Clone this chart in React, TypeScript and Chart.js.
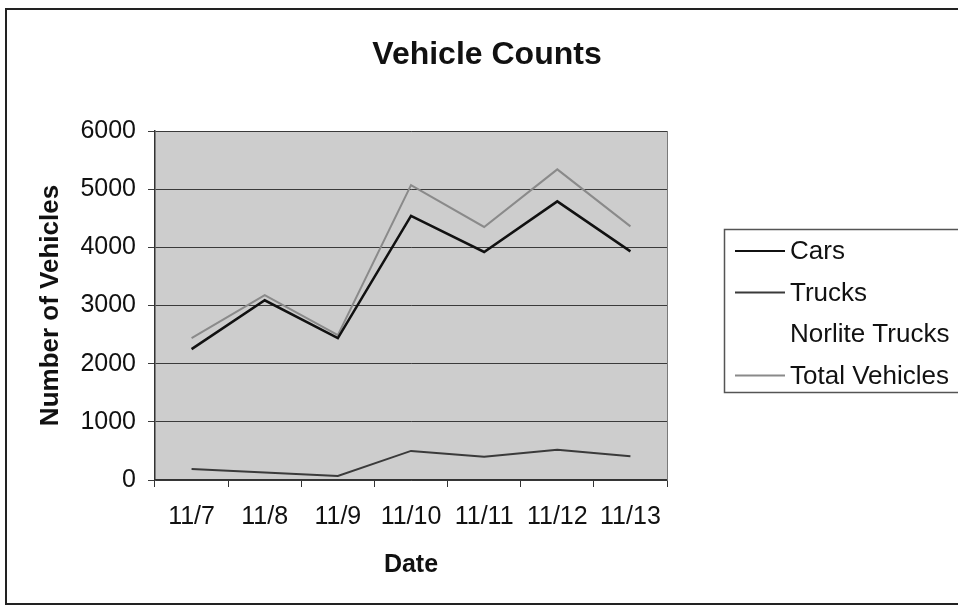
import React, { useEffect, useRef } from "react";
import { Chart, registerables } from "chart.js";

Chart.register(...registerables);

const categories = ["11/7", "11/8", "11/9", "11/10", "11/11", "11/12", "11/13"];
const cars = [2250, 3090, 2440, 4540, 3920, 4790, 3930];
const trucks = [190, 130, 70, 500, 400, 520, 410];
const norliteTrucks = [0, 0, 0, 30, 30, 30, 20];
const totalVehicles = [2440, 3180, 2490, 5070, 4350, 5340, 4360];
const seriesNames = ["Cars", "Trucks", "Norlite Trucks", "Total Vehicles"];
const seriesColors = ["#111111", "#3a3a3a", "rgba(255,255,255,0)", "#8a8a8a"];
const seriesWidths = [2.5, 2, 1, 2];
const yMin = 0;
const yMax = 6000;
const yStep = 1000;

const chartTitle = "Vehicle Counts";
const xTitle = "Date";
const yTitle = "Number of Vehicles";

const FONT = "'Liberation Sans', Arial, Helvetica, sans-serif";

const decor = {
  id: "decor",
  beforeDraw(chart: any) {
    const { ctx, chartArea: a } = chart;
    ctx.save();
    ctx.fillStyle = "#ffffff";
    ctx.fillRect(0, 0, chart.width, chart.height);
    ctx.fillStyle = "#cdcdcd";
    ctx.fillRect(a.left, a.top, a.right - a.left, a.bottom - a.top);
    ctx.restore();
  },
  afterDraw(chart: any) {
    const { ctx, chartArea: a } = chart;
    ctx.save();
    // plot right border
    ctx.strokeStyle = "#7a7a7a";
    ctx.lineWidth = 1;
    ctx.beginPath();
    ctx.moveTo(Math.round(a.right) + 0.5, a.top);
    ctx.lineTo(Math.round(a.right) + 0.5, a.bottom);
    ctx.stroke();

    // outer frame
    ctx.strokeStyle = "#222222";
    ctx.lineWidth = 2;
    ctx.strokeRect(6, 9, 1000, 595);

    // title
    ctx.fillStyle = "#111111";
    ctx.font = `bold 32px ${FONT}`;
    ctx.textAlign = "center";
    ctx.textBaseline = "middle";
    ctx.fillText(chartTitle, 487, 55);

    // legend box
    ctx.strokeStyle = "#555555";
    ctx.lineWidth = 1.5;
    ctx.strokeRect(724.5, 229.5, 300, 163);
    ctx.font = `26px ${FONT}`;
    ctx.textAlign = "left";
    const ds = chart.data.datasets;
    for (let i = 0; i < ds.length; i++) {
      const y = 251 + i * 41.5;
      ctx.strokeStyle = ds[i].borderColor;
      ctx.lineWidth = Math.min(ds[i].borderWidth, 2);
      ctx.beginPath();
      ctx.moveTo(735, y);
      ctx.lineTo(785, y);
      ctx.stroke();
      ctx.fillStyle = "#111111";
      ctx.fillText(ds[i].label, 790, y + 1);
    }
    ctx.restore();
  },
};

export default function App() {
  const ref = useRef<HTMLCanvasElement | null>(null);

  useEffect(() => {
    if (!ref.current) return;
    const seriesData = [cars, trucks, norliteTrucks, totalVehicles];
    const chart = new Chart(ref.current, {
      type: "line",
      data: {
        labels: categories,
        datasets: seriesNames.map((name, i) => ({
          label: name,
          data: seriesData[i],
          borderColor: seriesColors[i],
          backgroundColor: seriesColors[i],
          borderWidth: seriesWidths[i],
          pointRadius: 0,
          tension: 0,
          fill: false,
        })),
      },
      options: {
        animation: false,
        responsive: false,
        devicePixelRatio: 1,
        layout: { padding: { left: 0, top: 131, right: 291, bottom: 0 } },
        plugins: {
          legend: { display: false },
          title: { display: false },
          tooltip: { enabled: false },
        },
        scales: {
          x: {
            type: "category",
            offset: true,
            afterFit: (s: any) => {
              s.height = 133;
            },
            grid: {
              offset: true,
              drawOnChartArea: false,
              drawTicks: true,
              tickLength: 7,
              color: "#333333",
            },
            border: { display: true, color: "#333333", width: 1.5 },
            ticks: {
              color: "#111111",
              font: { family: FONT, size: 25 },
              padding: 15,
              maxRotation: 0,
              autoSkip: false,
            },
            title: {
              display: true,
              text: xTitle,
              color: "#111111",
              font: { family: FONT, size: 25, weight: "bold" },
              padding: { top: 0, bottom: 33 },
            },
          },
          y: {
            min: yMin,
            max: yMax,
            afterFit: (s: any) => {
              s.width = 155;
            },
            grid: {
              drawOnChartArea: true,
              drawTicks: true,
              tickLength: 7,
              color: "#3a3a3a",
              lineWidth: 1,
            },
            border: { display: true, color: "#333333", width: 1.5 },
            ticks: {
              stepSize: yStep,
              color: "#111111",
              font: { family: FONT, size: 25 },
              padding: 12,
              callback: (v: any) => String(v),
            },
            title: {
              display: true,
              text: yTitle,
              color: "#111111",
              font: { family: FONT, size: 26, weight: "bold" },
              padding: { top: 35, bottom: 0 },
            },
          },
        },
      },
      plugins: [decor],
    });
    return () => chart.destroy();
  }, []);

  return (
    <div style={{ position: "fixed", left: 0, top: 0, width: 958, height: 613, background: "#fff" }}>
      <canvas ref={ref} width={958} height={613} style={{ width: 958, height: 613, display: "block" }} />
    </div>
  );
}
